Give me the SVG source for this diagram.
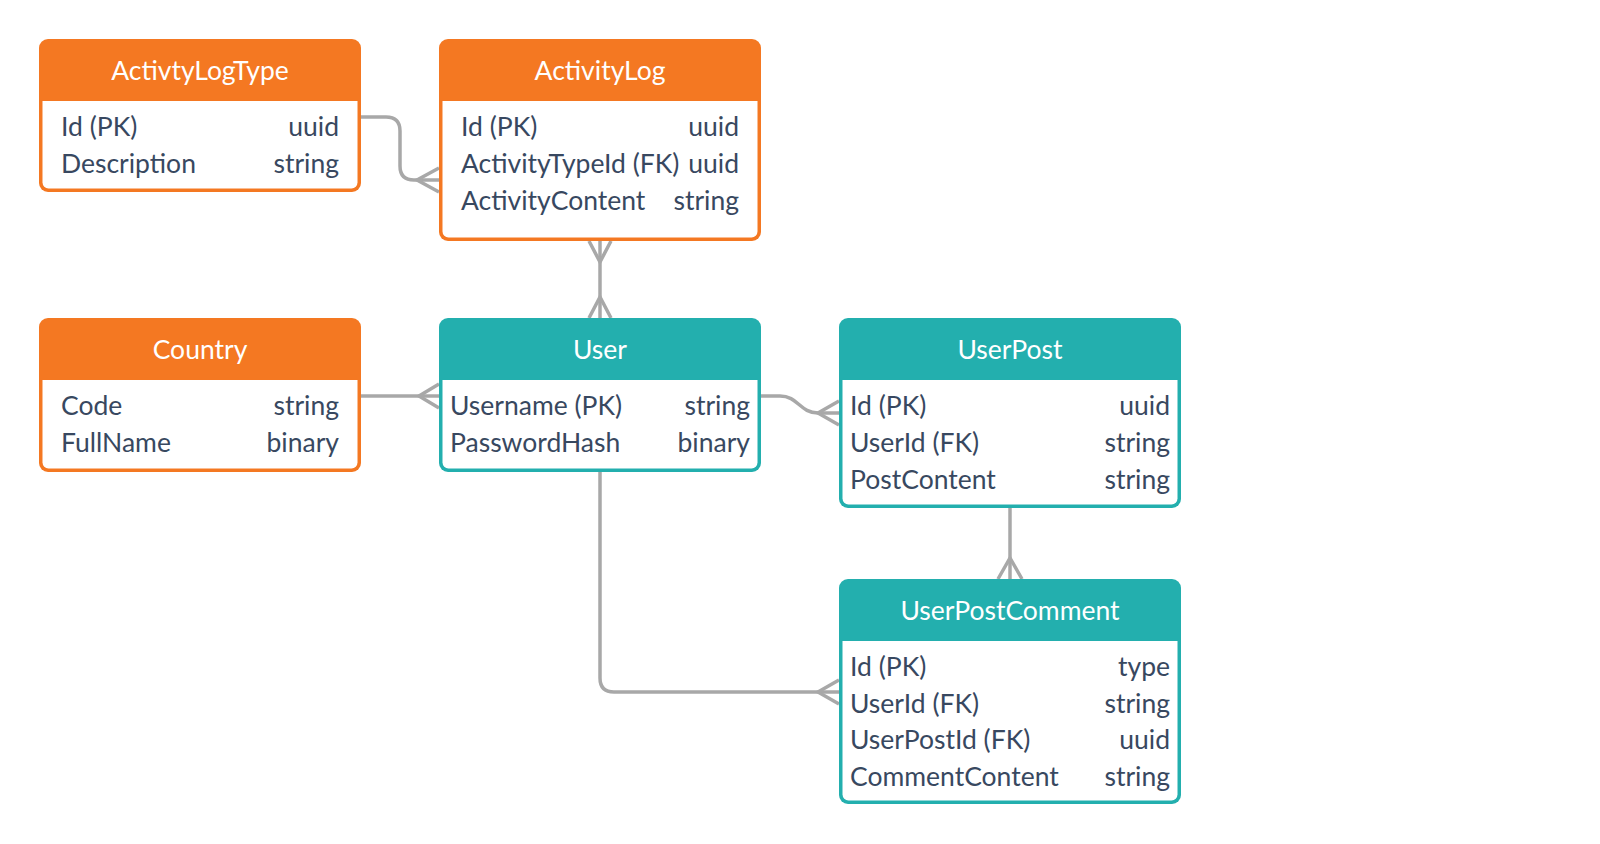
<svg xmlns="http://www.w3.org/2000/svg" width="1600" height="844" viewBox="0 0 1600 844">
<style>
.o{fill:#F47822}
.t{fill:#23AFAE}
.body{fill:#FFFFFF}
.title{font-family:Lato,"Open Sans",sans-serif;font-size:26.5px;fill:#FFFFFF;text-anchor:middle}
.f{font-family:Lato,"Open Sans",sans-serif;font-size:26.5px;fill:#384860}
.r{text-anchor:end}
.c{fill:none;stroke:#A8A8A8;stroke-width:3.5}
</style>
<rect width="1600" height="844" fill="#FFFFFF"/>
<g id="connectors">
<path class="c" d="M361,117 H386 Q400,117 400,131 V166 Q400,180 414,180 H439"/>
<path class="c" d="M439,168 L417,180 L439,192"/>
<path class="c" d="M600,241 V318"/>
<path class="c" d="M589,241 L600,262 L611,241"/>
<path class="c" d="M589,318 L600,297 L611,318"/>
<path class="c" d="M361,396 H439"/>
<path class="c" d="M439,384 L419,396 L439,408"/>
<path class="c" d="M761,396 H780 C798,396 800,413 818,413 H839"/>
<path class="c" d="M839,401 L818,413 L839,425"/>
<path class="c" d="M1010,508 V579"/>
<path class="c" d="M998,579 L1010,558 L1022,579"/>
<path class="c" d="M600,472 V678 Q600,692 614,692 H839"/>
<path class="c" d="M839,680 L818,692 L839,704"/>
</g>
<g id="ActivtyLogType">
<rect class="o" x="39" y="39" width="322" height="153" rx="9"/>
<path class="body" d="M42.5,101 H357.5 V182.5 A6 6 0 0 1 351.5,188.5 H48.5 A6 6 0 0 1 42.5,182.5 Z"/>
<text class="title" x="200" y="80">ActivtyLogType</text>
<text class="f" x="61" y="136">Id (PK)</text><text class="f r" x="339" y="136">uuid</text>
<text class="f" x="61" y="173">Description</text><text class="f r" x="339" y="173">string</text>
</g>
<g id="ActivityLog">
<rect class="o" x="439" y="39" width="322" height="202" rx="9"/>
<path class="body" d="M442.5,101 H757.5 V231.5 A6 6 0 0 1 751.5,237.5 H448.5 A6 6 0 0 1 442.5,231.5 Z"/>
<text class="title" x="600" y="80">ActivityLog</text>
<text class="f" x="461" y="136">Id (PK)</text><text class="f r" x="739" y="136">uuid</text>
<text class="f" x="461" y="173">ActivityTypeId (FK)</text><text class="f r" x="739" y="173">uuid</text>
<text class="f" x="461" y="210">ActivityContent</text><text class="f r" x="739" y="210">string</text>
</g>
<g id="Country">
<rect class="o" x="39" y="318" width="322" height="154" rx="9"/>
<path class="body" d="M42.5,380 H357.5 V462.5 A6 6 0 0 1 351.5,468.5 H48.5 A6 6 0 0 1 42.5,462.5 Z"/>
<text class="title" x="200" y="359">Country</text>
<text class="f" x="61" y="415">Code</text><text class="f r" x="339" y="415">string</text>
<text class="f" x="61" y="452">FullName</text><text class="f r" x="339" y="452">binary</text>
</g>
<g id="User">
<rect class="t" x="439" y="318" width="322" height="154" rx="9"/>
<path class="body" d="M442.5,380 H757.5 V462.5 A6 6 0 0 1 751.5,468.5 H448.5 A6 6 0 0 1 442.5,462.5 Z"/>
<text class="title" x="600" y="359">User</text>
<text class="f" x="450" y="415">Username (PK)</text><text class="f r" x="750" y="415">string</text>
<text class="f" x="450" y="452">PasswordHash</text><text class="f r" x="750" y="452">binary</text>
</g>
<g id="UserPost">
<rect class="t" x="839" y="318" width="342" height="190" rx="9"/>
<path class="body" d="M842.5,380 H1177.5 V498.5 A6 6 0 0 1 1171.5,504.5 H848.5 A6 6 0 0 1 842.5,498.5 Z"/>
<text class="title" x="1010" y="359">UserPost</text>
<text class="f" x="850" y="415">Id (PK)</text><text class="f r" x="1170" y="415">uuid</text>
<text class="f" x="850" y="452">UserId (FK)</text><text class="f r" x="1170" y="452">string</text>
<text class="f" x="850" y="489">PostContent</text><text class="f r" x="1170" y="489">string</text>
</g>
<g id="UserPostComment">
<rect class="t" x="839" y="579" width="342" height="225" rx="9"/>
<path class="body" d="M842.5,641 H1177.5 V794.5 A6 6 0 0 1 1171.5,800.5 H848.5 A6 6 0 0 1 842.5,794.5 Z"/>
<text class="title" x="1010" y="620">UserPostComment</text>
<text class="f" x="850" y="676">Id (PK)</text><text class="f r" x="1170" y="676">type</text>
<text class="f" x="850" y="713">UserId (FK)</text><text class="f r" x="1170" y="713">string</text>
<text class="f" x="850" y="749">UserPostId (FK)</text><text class="f r" x="1170" y="749">uuid</text>
<text class="f" x="850" y="786">CommentContent</text><text class="f r" x="1170" y="786">string</text>
</g>
</svg>
